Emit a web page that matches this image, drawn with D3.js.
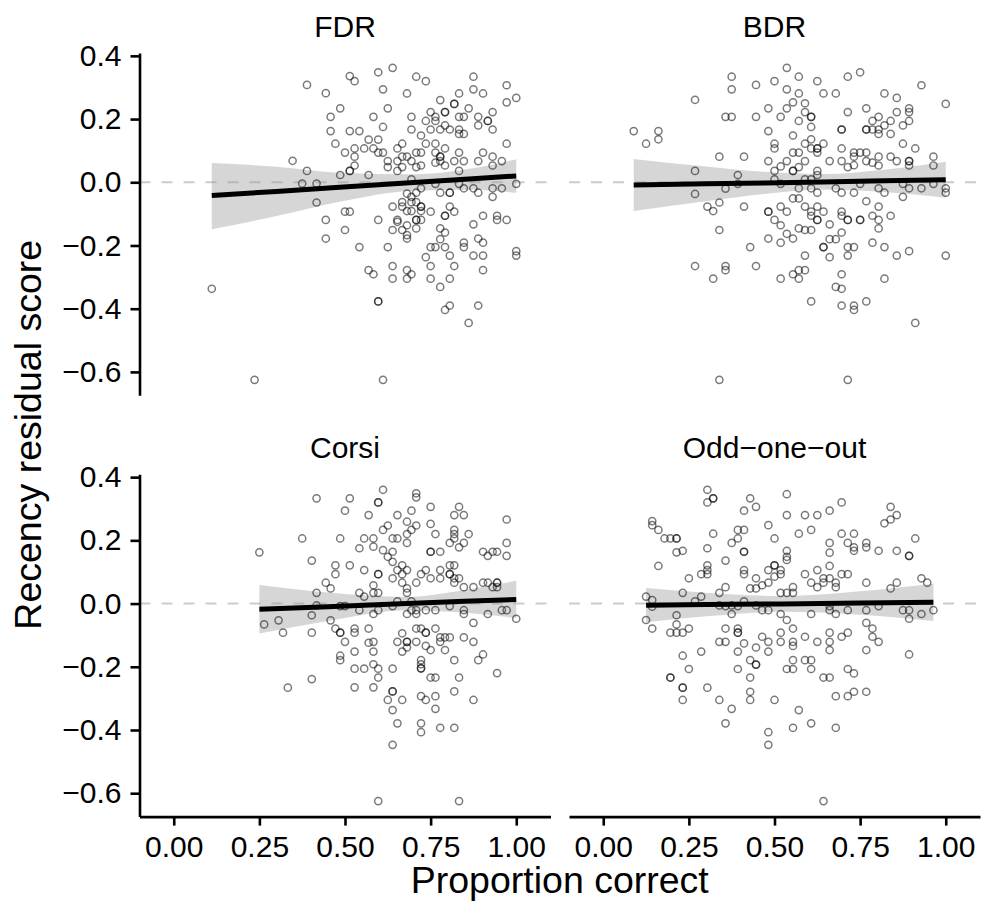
<!DOCTYPE html>
<html lang="en">
<head>
<meta charset="utf-8">
<script src="https://d3js.org/d3.v7.min.js"></script>
<style>
  body { margin: 0; background: #ffffff; }
  svg text { font-family: "Liberation Sans", Arial, Helvetica, sans-serif; fill: #000; }
</style>
</head>
<body>
<svg id="chart" width="985" height="915"></svg>
<script>
// facet titles and tick labels
var facetNames = ["FDR", "BDR", "Corsi", "Odd\u2212one\u2212out"];
var xTicks = [0, 0.25, 0.5, 0.75, 1];
var yTicks = [-0.6, -0.4, -0.2, 0, 0.2, 0.4];

// [proportion correct, recency residual score]
var fdrPoints = [
  [0.389,0.308],[0.444,0.282],[0.458,0.207],[0.458,0.162],[0.472,0.122],[0.347,0.068],[0.389,0.036],[0.375,-0.004],[0.417,-0.004],[0.417,-0.064],[0.444,-0.119],[0.444,-0.178],[0.111,-0.337],[0.236,-0.625],
  [0.639,0.362],[0.514,0.336],[0.528,0.320],[0.597,0.348],[0.708,0.334],[0.736,0.320],[0.875,0.334],[0.611,0.294],[0.875,0.294],[0.903,0.281],[0.972,0.307],[0.681,0.281],[0.833,0.281],
  [0.486,0.234],[0.625,0.234],[0.778,0.260],[0.819,0.248],[0.819,0.248],[0.792,0.222],[0.792,0.222],[0.861,0.234],[0.972,0.253],[1.000,0.267],
  [0.583,0.207],[0.694,0.207],[0.750,0.222],[0.764,0.207],[0.833,0.207],[0.847,0.207],[0.889,0.207],[0.917,0.194],[0.917,0.194],[0.931,0.222],
  [0.514,0.162],[0.542,0.162],[0.611,0.175],[0.694,0.167],[0.736,0.194],[0.764,0.194],[0.792,0.180],[0.750,0.167],[0.778,0.167],[0.806,0.167],[0.833,0.167],[0.833,0.153],[0.847,0.153],[0.889,0.180],[0.931,0.167],
  [0.722,0.148],[0.569,0.135],[0.597,0.135],[0.667,0.122],[0.736,0.122],[0.764,0.122],[0.792,0.107],[0.972,0.122],
  [0.500,0.094],[0.528,0.107],[0.556,0.107],[0.583,0.107],[0.597,0.094],[0.611,0.094],[0.653,0.107],[0.667,0.081],[0.681,0.081],[0.708,0.094],[0.722,0.094],[0.764,0.094],[0.778,0.081],[0.778,0.081],[0.833,0.094],[0.903,0.094],
  [0.528,0.081],[0.625,0.067],[0.653,0.067],[0.694,0.067],[0.764,0.062],[0.778,0.067],[0.792,0.053],[0.819,0.067],[0.847,0.067],[0.889,0.067],[0.931,0.081],[0.958,0.067],
  [0.528,0.053],[0.514,0.036],[0.514,0.036],[0.625,0.048],[0.653,0.036],[0.667,0.048],[0.708,0.048],[0.722,0.053],[0.833,0.036],[0.931,0.053],
  [0.486,0.023],[0.569,0.023],[0.694,0.009],
  [0.722,-0.019],[0.764,-0.005],[0.778,-0.033],[0.806,-0.033],[0.806,-0.033],[0.833,-0.005],[0.847,-0.019],[0.875,-0.019],[0.889,-0.033],[0.931,-0.019],[0.958,-0.019],[1.000,-0.005],[0.931,-0.046],
  [0.681,-0.036],[0.694,-0.046],[0.708,-0.033],[0.667,-0.063],[0.694,-0.063],[0.708,-0.063],
  [0.500,-0.093],[0.514,-0.093],[0.639,-0.077],[0.667,-0.077],[0.681,-0.091],[0.694,-0.091],[0.722,-0.077],[0.722,-0.077],[0.722,-0.091],[0.750,-0.093],[0.806,-0.077],[0.819,-0.093],[0.792,-0.106],[0.792,-0.106],
  [0.597,-0.119],[0.653,-0.119],[0.653,-0.125],[0.708,-0.119],[0.708,-0.119],[0.722,-0.119],[0.875,-0.133],[0.903,-0.106],[0.944,-0.106],[0.944,-0.119],[0.972,-0.119],
  [0.500,-0.151],[0.639,-0.151],[0.667,-0.151],[0.681,-0.136],[0.681,-0.167],[0.681,-0.178],[0.708,-0.146],[0.778,-0.146],[0.792,-0.159],
  [0.542,-0.205],[0.625,-0.205],[0.750,-0.205],[0.764,-0.205],[0.792,-0.205],[0.778,-0.180],[0.847,-0.191],[0.847,-0.205],[0.889,-0.178],[0.903,-0.191],
  [0.736,-0.237],[0.806,-0.232],[0.875,-0.232],[0.903,-0.232],[1.000,-0.218],[1.000,-0.232],
  [0.569,-0.278],[0.583,-0.291],[0.639,-0.265],[0.681,-0.278],[0.694,-0.291],[0.681,-0.305],[0.639,-0.305],[0.750,-0.265],[0.750,-0.305],[0.819,-0.265],[0.903,-0.278],
  [0.778,-0.331],[0.806,-0.305],[0.597,-0.377],[0.597,-0.377],[0.792,-0.404],[0.806,-0.390],[0.889,-0.390],[0.861,-0.445],[0.611,-0.625]
];

var bdrPoints = [
  [0.375,0.334],[0.375,0.294],[0.446,0.308],[0.268,0.261],[0.357,0.207],[0.375,0.207],[0.446,0.207],[0.089,0.162],[0.161,0.162],[0.125,0.122],[0.161,0.136],[0.339,0.081],[0.411,0.081],[0.268,0.036],[0.393,0.023],[0.393,-0.005],[0.268,-0.037],[0.357,-0.020],[0.339,-0.064],[0.304,-0.077],[0.321,-0.091],[0.411,-0.077],[0.339,-0.151],[0.429,-0.205],[0.268,-0.265],[0.357,-0.265],[0.357,-0.278],[0.446,-0.265],[0.321,-0.305],[0.339,-0.625],
  [0.536,0.362],[0.500,0.320],[0.571,0.334],[0.625,0.320],[0.714,0.334],[0.750,0.348],[0.929,0.307],
  [0.536,0.294],[0.571,0.281],[0.643,0.281],[0.679,0.281],[0.821,0.281],[0.857,0.267],[1.000,0.248],
  [0.482,0.234],[0.536,0.234],[0.554,0.253],[0.589,0.250],[0.518,0.207],[0.589,0.222],[0.607,0.207],[0.607,0.207],[0.714,0.222],[0.768,0.234],[0.804,0.207],[0.857,0.222],[0.893,0.234],[0.893,0.222],
  [0.571,0.194],[0.607,0.175],[0.482,0.162],[0.554,0.148],[0.696,0.167],[0.696,0.167],[0.768,0.167],[0.768,0.167],[0.786,0.194],[0.786,0.167],[0.804,0.167],[0.804,0.153],[0.821,0.180],[0.839,0.194],[0.839,0.153],[0.875,0.180],[0.893,0.194],
  [0.607,0.136],[0.500,0.122],[0.500,0.107],[0.554,0.094],[0.571,0.094],[0.589,0.122],[0.607,0.107],[0.625,0.107],[0.625,0.107],[0.625,0.094],[0.643,0.122],[0.696,0.107],[0.732,0.094],[0.750,0.094],[0.768,0.094],[0.875,0.122],[0.911,0.107],
  [0.482,0.067],[0.536,0.067],[0.518,0.050],[0.571,0.048],[0.589,0.067],[0.661,0.067],[0.696,0.067],[0.714,0.048],[0.732,0.054],[0.732,0.081],[0.768,0.067],[0.786,0.062],[0.804,0.081],[0.804,0.053],[0.839,0.081],[0.857,0.067],[0.893,0.067],[0.893,0.067],[0.893,0.053],[0.964,0.081],[0.964,0.053],
  [0.500,0.036],[0.554,0.036],[0.554,0.036],[0.625,0.036],[0.625,0.023],[0.500,0.009],[0.589,0.009],[0.607,0.009],
  [0.518,-0.005],[0.571,-0.019],[0.607,-0.019],[0.625,-0.033],[0.679,-0.019],[0.696,-0.033],[0.732,-0.033],[0.750,-0.005],[0.804,-0.019],[0.821,-0.033],[0.875,-0.005],[0.875,-0.046],[0.893,-0.019],[0.929,-0.019],[0.964,-0.005],[1.000,-0.019],[1.000,-0.033],
  [0.554,-0.051],[0.571,-0.051],
  [0.482,-0.093],[0.482,-0.093],[0.518,-0.077],[0.536,-0.093],[0.589,-0.077],[0.607,-0.093],[0.625,-0.077],[0.643,-0.093],[0.625,-0.119],[0.625,-0.119],[0.607,-0.106],[0.696,-0.093],[0.696,-0.106],[0.714,-0.119],[0.714,-0.119],[0.750,-0.119],[0.750,-0.119],[0.768,-0.060],[0.786,-0.106],[0.804,-0.077],[0.804,-0.119],[0.839,-0.106],
  [0.500,-0.119],[0.518,-0.136],[0.482,-0.178],[0.518,-0.191],[0.536,-0.163],[0.554,-0.178],[0.571,-0.146],[0.589,-0.151],[0.607,-0.151],[0.661,-0.133],[0.661,-0.180],[0.679,-0.180],[0.696,-0.159],[0.804,-0.146],
  [0.643,-0.205],[0.643,-0.205],[0.661,-0.237],[0.714,-0.205],[0.732,-0.205],[0.714,-0.232],[0.786,-0.191],[0.821,-0.205],[0.857,-0.232],[0.893,-0.218],[1.000,-0.232],[0.589,-0.232],
  [0.518,-0.305],[0.554,-0.291],[0.571,-0.278],[0.571,-0.305],[0.589,-0.278],[0.696,-0.291],[0.821,-0.305],
  [0.679,-0.331],[0.696,-0.337],[0.607,-0.377],[0.696,-0.390],[0.732,-0.390],[0.732,-0.404],[0.768,-0.377],[0.911,-0.445],[0.714,-0.625]
];

var corsiPoints = [
  [0.417,0.333],[0.375,0.206],[0.486,0.206],[0.250,0.162],[0.403,0.136],[0.472,0.121],[0.472,0.093],[0.444,0.066],[0.458,0.048],[0.417,0.034],[0.417,-0.006],[0.486,-0.008],[0.403,-0.037],[0.264,-0.066],[0.306,-0.053],[0.319,-0.092],[0.403,-0.092],[0.458,-0.053],[0.472,-0.079],[0.486,-0.092],[0.486,-0.092],[0.486,-0.165],[0.486,-0.179],[0.403,-0.239],[0.333,-0.266],
  [0.611,0.360],[0.514,0.333],[0.597,0.320],[0.597,0.320],[0.500,0.294],[0.569,0.280],[0.708,0.349],[0.708,0.336],[0.694,0.294],[0.653,0.280],[0.750,0.306],[0.833,0.306],[0.819,0.280],[0.847,0.280],[0.972,0.266],
  [0.681,0.259],[0.625,0.247],[0.708,0.247],[0.750,0.252],[0.611,0.233],[0.694,0.233],[0.819,0.233],[0.819,0.220],[0.861,0.220],[0.681,0.220],[0.764,0.220],
  [0.556,0.206],[0.583,0.206],[0.639,0.206],[0.653,0.206],[0.819,0.206],[0.806,0.192],[0.847,0.192],[0.681,0.192],[0.972,0.192],
  [0.542,0.175],[0.583,0.180],[0.611,0.169],[0.639,0.164],[0.750,0.164],[0.750,0.164],[0.778,0.164],[0.833,0.178],[0.903,0.164],[0.917,0.151],[0.931,0.164],[0.944,0.164],[0.972,0.151],
  [0.625,0.148],[0.639,0.132],[0.514,0.121],[0.556,0.106],[0.653,0.106],[0.667,0.121],[0.681,0.106],[0.736,0.106],[0.778,0.106],[0.806,0.121],[0.819,0.121],
  [0.597,0.093],[0.597,0.093],[0.667,0.093],[0.722,0.093],[0.806,0.093],[0.806,0.093],[0.639,0.080],[0.667,0.066],[0.708,0.066],[0.750,0.080],[0.778,0.080],[0.819,0.080],[0.833,0.080],
  [0.583,0.058],[0.681,0.048],[0.819,0.066],[0.847,0.052],[0.875,0.052],[0.903,0.066],[0.917,0.066],[0.931,0.052],[0.944,0.066],[0.944,0.066],[0.944,0.052],
  [0.542,0.034],[0.556,0.022],[0.583,0.034],[0.597,0.034],[0.681,0.034],
  [0.500,-0.008],[0.542,-0.021],[0.583,-0.033],[0.597,-0.021],[0.639,-0.008],[0.653,0.007],[0.681,-0.033],[0.694,0.007],[0.694,-0.021],[0.708,-0.033],[0.708,-0.021],[0.736,-0.021],[0.764,-0.021],[0.806,-0.008],[0.847,-0.021],[0.847,-0.033],[0.875,-0.061],[0.917,-0.033],[0.958,-0.021],[0.972,-0.021],[1.000,-0.048],
  [0.528,-0.079],[0.528,-0.092],[0.569,-0.079],[0.500,-0.121],[0.569,-0.124],[0.583,-0.121],[0.653,-0.121],[0.667,-0.094],[0.681,-0.121],[0.681,-0.121],[0.708,-0.079],[0.722,-0.079],[0.736,-0.092],[0.736,-0.092],[0.764,-0.079],[0.778,-0.107],[0.792,-0.107],[0.806,-0.107],[0.778,-0.121],[0.708,-0.121],[0.847,-0.107],[0.875,-0.121],
  [0.528,-0.152],[0.583,-0.152],[0.667,-0.152],[0.681,-0.139],[0.736,-0.134],[0.750,-0.147],[0.792,-0.147],[0.903,-0.161],[0.889,-0.179],[0.722,-0.179],[0.722,-0.192],[0.722,-0.205],[0.722,-0.205],[0.819,-0.179],
  [0.528,-0.206],[0.556,-0.206],[0.583,-0.192],[0.597,-0.206],[0.597,-0.234],[0.639,-0.206],[0.750,-0.234],[0.764,-0.234],[0.833,-0.234],[0.944,-0.220],
  [0.528,-0.265],[0.583,-0.265],[0.639,-0.278],[0.639,-0.278],[0.625,-0.305],[0.667,-0.305],[0.639,-0.337],[0.722,-0.293],[0.736,-0.305],[0.764,-0.293],[0.764,-0.333],[0.819,-0.278],[0.875,-0.305],
  [0.653,-0.379],[0.722,-0.379],[0.722,-0.407],[0.778,-0.393],[0.819,-0.393],[0.639,-0.447],[0.597,-0.625],[0.833,-0.625]
];

var oddPoints = [
  [0.304,0.360],[0.321,0.333],[0.321,0.333],[0.304,0.320],[0.429,0.333],[0.446,0.306],[0.411,0.294],
  [0.143,0.261],[0.143,0.248],[0.161,0.233],[0.179,0.206],[0.196,0.206],[0.214,0.206],[0.214,0.206],[0.321,0.221],[0.393,0.233],[0.411,0.233],[0.393,0.206],[0.375,0.192],
  [0.214,0.162],[0.232,0.167],[0.304,0.175],[0.411,0.164],[0.411,0.164],[0.357,0.136],[0.161,0.119],[0.304,0.121],[0.304,0.106],[0.286,0.093],[0.304,0.093],[0.411,0.106],[0.411,0.093],
  [0.250,0.080],[0.446,0.080],[0.464,0.058],[0.429,0.048],[0.446,0.048],[0.357,0.052],[0.339,0.034],[0.232,0.034],
  [0.125,0.022],[0.143,0.011],[0.143,-0.010],[0.268,0.007],[0.286,0.022],[0.339,-0.006],[0.357,-0.008],[0.375,-0.006],[0.393,-0.008],[0.411,0.007],[0.446,-0.006],[0.464,-0.021],[0.375,-0.033],
  [0.214,-0.037],[0.214,-0.066],[0.125,-0.052],[0.143,-0.079],[0.196,-0.092],[0.214,-0.092],[0.232,-0.092],[0.250,-0.079],[0.357,-0.079],[0.393,-0.079],[0.393,-0.092],[0.393,-0.092],[0.464,-0.105],
  [0.339,-0.121],[0.357,-0.121],[0.411,-0.126],[0.393,-0.152],[0.446,-0.139],[0.286,-0.152],[0.232,-0.165],[0.250,-0.207],[0.429,-0.179],[0.446,-0.193],[0.446,-0.193],[0.393,-0.207],
  [0.196,-0.234],[0.196,-0.234],[0.429,-0.234],[0.232,-0.266],[0.232,-0.266],[0.304,-0.266],[0.429,-0.279],[0.232,-0.305],[0.339,-0.305],[0.429,-0.305],[0.375,-0.333],[0.357,-0.379],
  [0.536,0.346],[0.696,0.320],[0.536,0.280],[0.589,0.280],[0.625,0.280],[0.661,0.294],[0.839,0.306],[0.857,0.280],[0.839,0.266],[0.821,0.254],
  [0.482,0.248],[0.500,0.206],[0.571,0.221],[0.607,0.233],[0.696,0.221],[0.732,0.221],[0.911,0.206],[0.661,0.192],[0.714,0.192],[0.732,0.178],[0.732,0.167],[0.768,0.192],[0.768,0.178],[0.804,0.167],[0.857,0.167],[0.893,0.151],[0.893,0.151],
  [0.536,0.167],[0.536,0.148],[0.536,0.138],[0.661,0.161],[0.661,0.119],[0.500,0.121],[0.500,0.121],[0.482,0.106],[0.518,0.106],[0.500,0.085],[0.518,0.093],[0.482,0.066],[0.589,0.093],[0.625,0.106],[0.607,0.066],[0.625,0.052],[0.643,0.080],[0.661,0.080],[0.643,0.066],[0.679,0.066],[0.679,0.052],[0.696,0.093],[0.714,0.093],[0.768,0.066],[0.839,0.048],[0.857,0.066],[0.929,0.080],[0.946,0.066],
  [0.518,0.034],[0.536,0.034],[0.554,0.034],[0.554,0.052],
  [0.482,-0.021],[0.518,-0.033],[0.536,-0.052],[0.554,-0.079],[0.607,-0.033],[0.661,-0.008],[0.661,-0.021],[0.679,-0.033],[0.714,-0.021],[0.768,-0.021],[0.804,-0.008],[0.875,-0.021],[0.893,-0.021],[0.893,-0.048],[0.929,-0.033],[0.964,-0.021],
  [0.768,-0.061],[0.786,-0.079],[0.786,-0.105],[0.804,-0.121],[0.482,-0.121],[0.482,-0.152],[0.518,-0.092],[0.518,-0.121],[0.554,-0.121],[0.554,-0.134],[0.589,-0.105],[0.625,-0.121],[0.661,-0.092],[0.661,-0.121],[0.661,-0.147],[0.696,-0.105],[0.714,-0.092],[0.768,-0.147],[0.893,-0.161],
  [0.554,-0.179],[0.536,-0.207],[0.554,-0.207],[0.589,-0.179],[0.607,-0.179],[0.607,-0.207],[0.643,-0.234],[0.661,-0.234],[0.714,-0.207],[0.732,-0.221],
  [0.679,-0.293],[0.714,-0.293],[0.732,-0.279],[0.768,-0.279],[0.500,-0.305],[0.571,-0.337],[0.554,-0.393],[0.607,-0.379],[0.679,-0.393],[0.482,-0.407],[0.482,-0.447],[0.643,-0.625]
];

// linear fit with 95% band: [x, fit, lower, upper]
var fdrBand = [[0.111,-0.042,-0.149,0.061],[0.30,-0.029,-0.107,0.049],[0.484,-0.016,-0.062,0.030],[0.70,-0.001,-0.027,0.025],[0.873,0.011,-0.024,0.044],[1.0,0.020,-0.033,0.073]];
var bdrBand = [[0.089,-0.009,-0.091,0.074],[0.30,-0.005,-0.060,0.050],[0.47,-0.002,-0.037,0.033],[0.64,0.001,-0.023,0.026],[0.82,0.005,-0.031,0.040],[1.0,0.008,-0.049,0.065]];
var corsiBand = [[0.25,-0.018,-0.095,0.059],[0.45,-0.010,-0.055,0.035],[0.68,0.000,-0.021,0.021],[0.85,0.007,-0.029,0.043],[1.0,0.013,-0.046,0.072]];
var oddBand = [[0.125,-0.005,-0.059,0.049],[0.30,-0.003,-0.040,0.034],[0.52,-0.001,-0.026,0.024],[0.75,0.002,-0.035,0.039],[0.964,0.004,-0.055,0.063]];

var panels = [
  { name: facetNames[0], points: fdrPoints, band: fdrBand, col: 0, row: 0 },
  { name: facetNames[1], points: bdrPoints, band: bdrBand, col: 1, row: 0 },
  { name: facetNames[2], points: corsiPoints, band: corsiBand, col: 0, row: 1 },
  { name: facetNames[3], points: oddPoints, band: oddBand, col: 1, row: 1 }
];

var svg = d3.select("#chart");

// facet geometry
var colX = [139.5, 569], panelW = 411;
var rowY = [53, 474.3], panelH = 342.3;

var xScale = d3.scaleLinear().domain([-0.1, 1.1]).range([0, panelW]);
var yScale = d3.scaleLinear().domain([-0.674, 0.409]).range([panelH, 0]);

var area = d3.area()
  .x(function (d) { return xScale(d[0]); })
  .y0(function (d) { return yScale(d[2]); })
  .y1(function (d) { return yScale(d[3]); })
  .curve(d3.curveMonotoneX);

var fitLine = d3.line()
  .x(function (d) { return xScale(d[0]); })
  .y(function (d) { return yScale(d[1]); });

function styleAxis(sel) {
  sel.select(".domain").style("stroke", "#000").style("stroke-width", 2.6);
  sel.selectAll(".tick line").style("stroke", "#000").style("stroke-width", 2.6);
  sel.selectAll(".tick text")
    .style("font-size", "30px")
    .style("font-family", "'Liberation Sans', Arial, sans-serif")
    .style("fill", "#000");
}

panels.forEach(function (p) {
  var g = svg.append("g")
    .attr("transform", "translate(" + colX[p.col] + "," + rowY[p.row] + ")");

  // dashed reference at zero
  g.append("line")
    .attr("x1", 0).attr("x2", panelW)
    .attr("y1", yScale(0)).attr("y2", yScale(0))
    .style("stroke", "#cccccc")
    .style("stroke-width", 2)
    .style("stroke-dasharray", "11,11");

  // confidence band
  g.append("path")
    .datum(p.band)
    .attr("d", area)
    .style("fill", "#999999")
    .style("fill-opacity", 0.4);

  // open circles
  g.append("g")
    .selectAll("circle")
    .data(p.points)
    .enter()
    .append("circle")
    .attr("cx", function (d) { return xScale(d[0]); })
    .attr("cy", function (d) { return yScale(d[1]); })
    .attr("r", 3.6)
    .style("fill", "none")
    .style("stroke", "#000")
    .style("stroke-opacity", 0.52)
    .style("stroke-width", 1.5);

  // regression line
  g.append("path")
    .datum(p.band)
    .attr("d", fitLine)
    .style("fill", "none")
    .style("stroke", "#000")
    .style("stroke-width", 5);

  // facet title
  g.append("text")
    .attr("x", panelW / 2)
    .attr("y", -16)
    .attr("text-anchor", "middle")
    .style("font-size", "30px")
    .text(p.name);

  if (p.col === 0) {
    g.append("g")
      .call(d3.axisLeft(yScale).tickValues(yTicks).tickFormat(d3.format(".1f"))
        .tickSize(9).tickSizeOuter(0).tickPadding(9))
      .call(styleAxis);
  }
  if (p.row === 1) {
    g.append("g")
      .attr("transform", "translate(0," + panelH + ")")
      .call(d3.axisBottom(xScale).tickValues(xTicks).tickFormat(d3.format(".2f"))
        .tickSize(9).tickSizeOuter(0).tickPadding(10))
      .call(styleAxis);
  }
});

// axis titles
svg.append("text")
  .attr("x", (colX[0] + colX[1] + panelW) / 2)
  .attr("y", 893)
  .attr("text-anchor", "middle")
  .style("font-size", "37.5px")
  .text("Proportion correct");

svg.append("text")
  .attr("text-anchor", "middle")
  .attr("transform", "translate(41," + (rowY[0] + (rowY[1] + panelH - rowY[0]) / 2) + ")rotate(-90)")
  .style("font-size", "37.5px")
  .text("Recency residual score");
</script>
</body>
</html>
